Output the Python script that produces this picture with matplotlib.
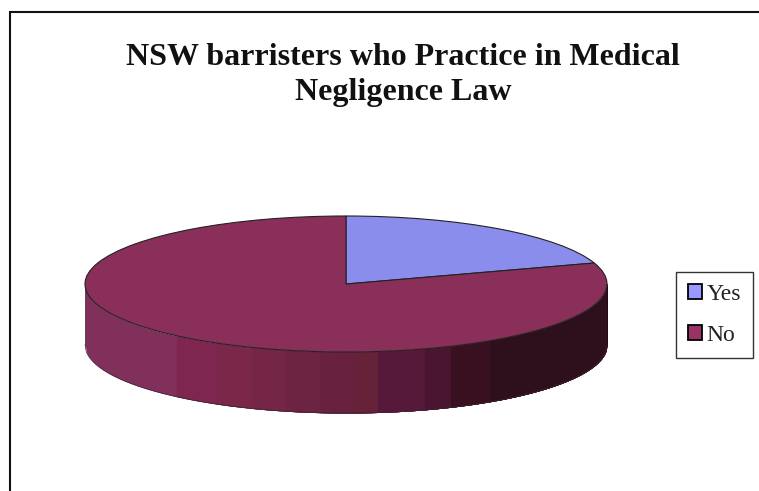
import numpy as np
import matplotlib
matplotlib.use("Agg")
import matplotlib.pyplot as plt
from matplotlib.patches import Rectangle

categories = ["Yes", "No"]
values = [20, 80]
top_colors = ["#8a8deb", "#8a2f59"]
legend_colors = ["#9999ff", "#993366"]
title_text = "NSW barristers who Practice in Medical\nNegligence Law"

# shaded bands of the pie's outer wall, left to right
wall_edges = [-1.0, -0.65, -0.50, -0.36, -0.23, -0.10, 0.03, 0.12, 0.30, 0.40, 0.55, 1.0]
wall_colors = ["#80305a", "#7e2550", "#7a2749", "#752546", "#6d2342", "#68213e",
               "#652238", "#57193a", "#4a1530", "#381020", "#2e0f1c"]

W, H = 759, 491
fig = plt.figure(figsize=(W / 100, H / 100), dpi=100, facecolor="white")

# frame around the chart, running off the right and bottom of the image
fig.add_artist(Rectangle((9.5 / W, -0.1), 1.2, 1.1 - 11.5 / H, transform=fig.transFigure,
                         fill=False, edgecolor="#111111", linewidth=1.5))

fig.text(403 / W, 1 - 75 / H, title_text, family="Liberation Serif", weight="bold",
         fontsize=23, ha="center", va="center", color="#111111", linespacing=1.28)

cx, cy, rx, ry, depth = 346, 284, 261, 68, 61
span = 1.25
ax = fig.add_axes([(cx - span * rx) / W, 1 - (cy + span * ry) / H,
                   2 * span * rx / W, 2 * span * ry / H])
wedges, _ = ax.pie(values, colors=top_colors, startangle=90, counterclock=False,
                   wedgeprops=dict(edgecolor="#222222", linewidth=0.8, zorder=3))
ax.set_aspect("auto")
ax.set_xlim(-span, span)
ax.set_ylim(-span, span)
ax.set_clip_on(False)
ax.patch.set_visible(False)

d = depth / ry
# each band runs to the far right and the next one paints over it, so no seams show
for x0, c in zip(wall_edges[:-1], wall_colors):
    x = np.linspace(x0, 1, 300)
    y = -np.sqrt(np.clip(1 - x ** 2, 0, 1))
    ax.fill_between(x, y, y - d, color=c, linewidth=0, zorder=1, clip_on=False)

x = np.linspace(-1, 1, 400)
y = -np.sqrt(1 - x ** 2)
ax.plot(x, y - d, color="#3a2430", lw=0.5, zorder=2, clip_on=False)
ax.plot([-1, -1], [0, -d], color="#3a2430", lw=0.5, zorder=2, clip_on=False)
ax.plot([1, 1], [0, -d], color="#1a0a10", lw=0.5, zorder=2, clip_on=False)

handles = [Rectangle((0, 0), 1, 1, facecolor=c, edgecolor="black", linewidth=1.3) for c in legend_colors]
leg = fig.legend(handles, categories, loc="center left",
                 bbox_to_anchor=(676 / W, 1 - 315 / H), bbox_transform=fig.transFigure,
                 frameon=True, fancybox=False, edgecolor="#333333", facecolor="white", framealpha=1,
                 prop=dict(family="Liberation Serif", size=17),
                 handlelength=0.59, handleheight=0.59, handletextpad=0.2,
                 labelspacing=0.85, borderpad=0.5, borderaxespad=0)
leg.get_frame().set_linewidth(1.0)
for t in leg.get_texts():
    t.set_color("#222222")

fig.savefig("out.png", dpi=100, facecolor="white")
